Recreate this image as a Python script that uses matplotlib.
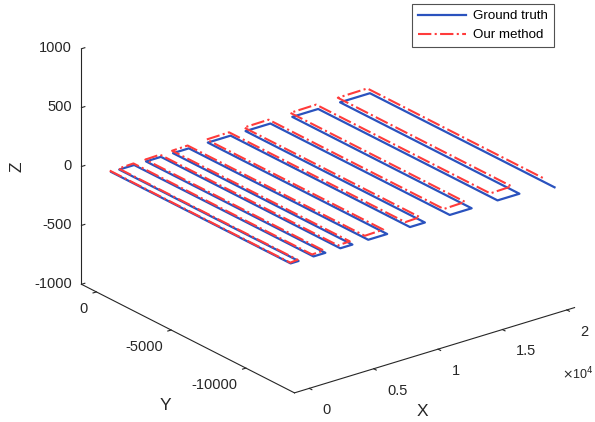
import matplotlib
matplotlib.use("Agg")
import matplotlib.pyplot as plt
from matplotlib.lines import Line2D
from matplotlib.ticker import FuncFormatter

plt.rcParams["font.family"] = ["Liberation Sans", "DejaVu Sans"]
plt.rcParams["axes.unicode_minus"] = False

# survey legs of the lawnmower path: x position of each leg, y at both ends, depth
gt_leg_x = [0, 620, 1780, 2700, 3860, 4800, 6030, 7500, 9270, 10430, 12360, 14060, 16070, 17770, 20090]
gt_top_y = [0, 0, 0, 0, 0, 0, 0, 0, 0, 0, 0, 0, 0, 0, 0]
gt_bot_y = [-12000, -12000, -12000, -12000, -12000, -12000, -12000, -12000,
            -12000, -12000, -12000, -12000, -12000, -12000, -12350]
gt_z = [-20, -20, -20, -20, -20, -20, -20, -20, -20, -20, -20, -20, -20, -20, -20]

est_leg_x = [0, 600, 1760, 2680, 3830, 4770, 5990, 7460, 9220, 10380, 12300, 13990, 16000, 17690, 19990]
est_top_y = [100, 20, 30, 30, 40, 40, 50, 50, 60, 60, 70, 70, 80, 80, 90]
est_bot_y = [-11980, -11950, -11920, -11900, -11870, -11850, -11800, -11770,
             -11730, -11700, -11650, -11620, -11570, -11540, -11780]
est_z = [-15, -12, -8, -6, -3, -1, 2, 4, 6, 8, 10, 12, 14, 16, 18]

x_ticks = [0, 5000, 10000, 15000, 20000]
y_ticks = [-10000, -5000, 0]
z_ticks = [-1000, -500, 0, 500, 1000]

BLUE = "#2a52be"
RED = "#ff3b3b"
INK = "#262626"


def lawnmower(leg_x, top_y, bot_y, z):
    xs, ys, zs = [], [], []
    for i, x in enumerate(leg_x):
        ends = (top_y[i], bot_y[i]) if i % 2 == 0 else (bot_y[i], top_y[i])
        for y in ends:
            xs.append(x)
            ys.append(y)
            zs.append(z[i])
    return xs, ys, zs


fig = plt.figure(figsize=(5.95, 4.22), dpi=100)
ax = fig.add_axes([0.1872, 0.0643, 0.709, 1.0], projection="3d")
ax.set_proj_type("ortho")
ax.view_init(elev=23.2, azim=-127.7)
ax.set_box_aspect((1, 0.984, 0.724), zoom=1.286)

ax.plot(*lawnmower(gt_leg_x, gt_top_y, gt_bot_y, gt_z), color=BLUE, lw=1.6,
        clip_on=False)
ax.plot(*lawnmower(est_leg_x, est_top_y, est_bot_y, est_z), color=RED, lw=1.5,
        ls="-.", clip_on=False)

ax.set_xlim(-1150, 20600)
ax.set_ylim(-13250, 1000)
ax.set_zlim(-1000, 1000)
ax.set_xticks(x_ticks)
ax.set_yticks(y_ticks)
ax.set_zticks(z_ticks)
ax.xaxis.set_major_formatter(FuncFormatter(lambda v, p: f"{v / 1e4:g}"))

ax.grid(False)
for axis in (ax.xaxis, ax.yaxis, ax.zaxis):
    axis.pane.set_visible(False)
    axis.line.set_color(INK)
    axis.line.set_linewidth(0.8)
    axis._axinfo["tick"]["color"] = INK
    axis._axinfo["tick"]["inward_factor"] = 0.0
    axis._axinfo["tick"]["outward_factor"] = 0.15
# x / y ticks point into the box like in MATLAB
for axis in (ax.xaxis, ax.yaxis):
    axis._axinfo["tick"]["inward_factor"] = 0.15
    axis._axinfo["tick"]["outward_factor"] = 0.0
ax.tick_params(labelsize=10.5, colors=INK)
ax.xaxis.set_tick_params(pad=2.0)
ax.yaxis.set_tick_params(pad=-3.2)
ax.zaxis.set_tick_params(pad=-4.9)

# MATLAB-like tick label anchoring
for lbl in ax.xaxis.get_majorticklabels():
    lbl.set_ha("left")
    lbl.set_va("center")
for lbl in ax.yaxis.get_majorticklabels():
    lbl.set_ha("right")
    lbl.set_va("top")
for lbl in ax.zaxis.get_majorticklabels():
    lbl.set_ha("right")
    lbl.set_va("center")

# axis titles placed like the MATLAB export (horizontal X/Y, vertical Z)
fig.text(422 / 595, 1 - 411 / 422, "X", fontsize=12.5, color=INK, ha="center", va="center")
fig.text(165 / 595, 1 - 406 / 422, "Y", fontsize=12.5, color=INK, ha="center", va="center")
fig.text(17 / 595, 1 - 167 / 422, "Z", fontsize=12.5, color=INK, ha="center", va="center",
         rotation=90)
fig.text(593 / 595, 1 - 374 / 422, r"$\times$10$^4$", fontsize=9, color=INK,
         ha="right", va="center")

handles = [Line2D([], [], color=BLUE, lw=1.6),
           Line2D([], [], color=RED, lw=1.5, ls="-.")]
leg = fig.legend(handles, ["Ground truth", "Our method"], loc="upper right",
                 bbox_to_anchor=(0.931, 0.9905), borderaxespad=0, fontsize=9.6,
                 frameon=True, fancybox=False, edgecolor=INK, handlelength=3.6,
                 borderpad=0.45, labelspacing=0.5, handletextpad=0.5)
leg.get_frame().set_linewidth(0.8)

fig.savefig("out.png", dpi=100)
